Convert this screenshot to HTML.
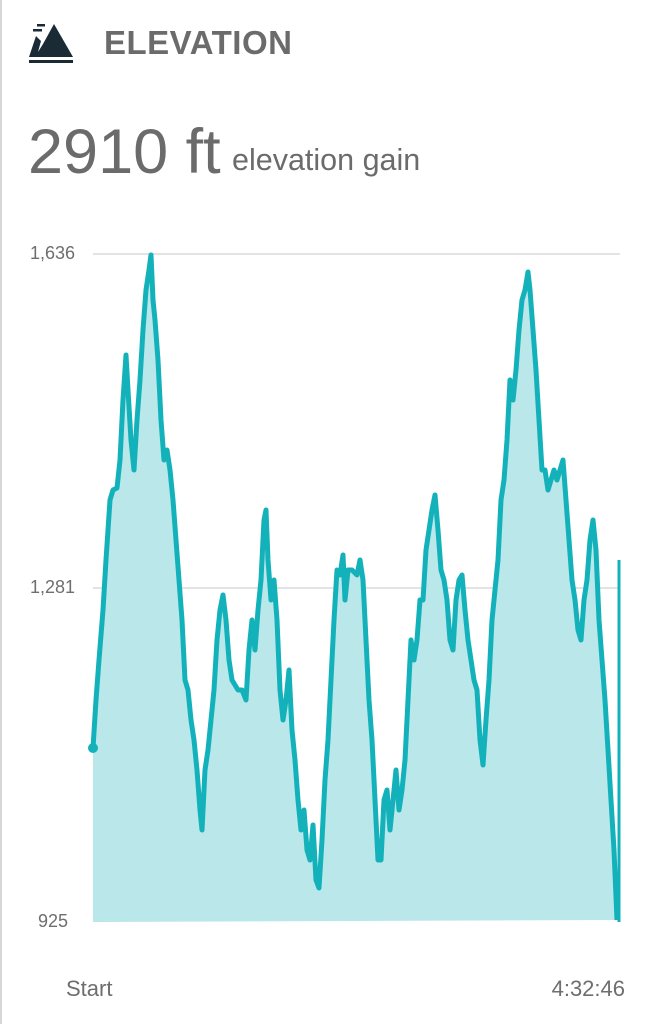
<!DOCTYPE html>
<html><head><style>
body{margin:0;width:655px;height:1024px;background:#fff;overflow:hidden;position:relative;font-family:"Liberation Sans",sans-serif;color:#6e6e6e}
.lb{position:absolute;left:0;top:0;width:2px;height:1024px;background:#d6d6d6}
</style></head><body>
<div class="lb"></div>
<svg style="position:absolute;left:28px;top:22px" width="48" height="42" viewBox="0 0 48 42">
<rect x="9" y="2" width="8" height="2.5" fill="#1b2b36"/>
<rect x="5" y="7" width="9" height="2.5" fill="#1b2b36"/>
<polygon points="1,35 8,14 13,19 10,30 15,22 26,2 45,35" fill="#1b2b36"/>
<rect x="1" y="38" width="44" height="3" fill="#1b2b36"/>
</svg>
<div style="position:absolute;left:104px;top:24px;font-size:33px;font-weight:bold;color:#6b6b6b;letter-spacing:0.5px">ELEVATION</div>
<div style="position:absolute;left:28px;top:116px;font-size:63px;color:#6b6b6b">2910 ft</div>
<div style="position:absolute;left:232px;top:143px;font-size:30.5px;color:#6b6b6b">elevation gain</div>
<div style="position:absolute;left:30px;top:243px;font-size:18px">1,636</div>
<div style="position:absolute;left:30px;top:577px;font-size:18px">1,281</div>
<div style="position:absolute;left:38px;top:911px;font-size:18px">925</div>
<div style="position:absolute;left:66px;top:976px;font-size:22px">Start</div>
<div style="position:absolute;right:30px;top:976px;font-size:22px">4:32:46</div>
<svg style="position:absolute;left:0;top:0" width="655" height="1024">
<line x1="93" y1="254" x2="620" y2="254" stroke="#e3e3e3" stroke-width="2"/>
<line x1="93" y1="588" x2="620" y2="588" stroke="#e3e3e3" stroke-width="2"/>
<polygon fill="#b9e7ea" points="93,922 93,748 96,700 99,660 103,610 106,560 110,500 113,490 117,488 120,460 123,400 126,355 128,390 131,440 134,470 137,420 140,380 143,330 146,290 149,270 151,255 153,300 155,320 158,360 161,420 164,460 167,450 170,470 173,500 176,540 179,580 182,620 185,680 188,690 191,720 194,740 197,770 200,810 202,830 205,770 208,750 211,720 214,690 217,640 220,610 223,595 226,620 229,660 232,680 235,685 238,690 242,690 246,700 249,650 252,620 255,650 258,610 261,580 264,520 266,510 268,560 271,600 274,580 277,620 280,690 283,720 286,700 289,670 292,730 295,760 298,800 301,830 304,810 307,850 310,860 313,825 316,880 319,888 322,840 325,780 328,740 331,680 334,620 337,570 340,575 343,555 345,600 348,570 352,570 357,575 360,560 363,580 366,640 369,700 372,740 375,800 378,860 381,860 384,800 387,790 390,830 393,800 396,770 399,810 402,790 405,760 408,700 411,640 414,660 417,640 420,600 423,600 426,550 429,530 432,510 435,495 438,530 441,570 444,580 447,600 450,640 453,650 456,600 459,580 462,575 465,610 468,640 471,660 474,680 477,690 480,740 483,765 486,720 489,680 492,620 495,590 498,560 501,500 504,480 507,440 510,380 513,400 516,370 519,330 522,300 525,290 528,272 530,290 533,330 536,370 539,420 542,470 545,470 548,490 551,480 554,470 557,480 560,470 563,460 566,500 569,540 572,580 575,600 578,630 581,640 584,600 587,580 590,540 593,520 596,550 599,620 602,660 605,700 608,750 611,800 614,850 617,920 620,920"/>
<polyline fill="none" stroke="#13b2bb" stroke-width="5" stroke-linejoin="round" points="93,748 96,700 99,660 103,610 106,560 110,500 113,490 117,488 120,460 123,400 126,355 128,390 131,440 134,470 137,420 140,380 143,330 146,290 149,270 151,255 153,300 155,320 158,360 161,420 164,460 167,450 170,470 173,500 176,540 179,580 182,620 185,680 188,690 191,720 194,740 197,770 200,810 202,830 205,770 208,750 211,720 214,690 217,640 220,610 223,595 226,620 229,660 232,680 235,685 238,690 242,690 246,700 249,650 252,620 255,650 258,610 261,580 264,520 266,510 268,560 271,600 274,580 277,620 280,690 283,720 286,700 289,670 292,730 295,760 298,800 301,830 304,810 307,850 310,860 313,825 316,880 319,888 322,840 325,780 328,740 331,680 334,620 337,570 340,575 343,555 345,600 348,570 352,570 357,575 360,560 363,580 366,640 369,700 372,740 375,800 378,860 381,860 384,800 387,790 390,830 393,800 396,770 399,810 402,790 405,760 408,700 411,640 414,660 417,640 420,600 423,600 426,550 429,530 432,510 435,495 438,530 441,570 444,580 447,600 450,640 453,650 456,600 459,580 462,575 465,610 468,640 471,660 474,680 477,690 480,740 483,765 486,720 489,680 492,620 495,590 498,560 501,500 504,480 507,440 510,380 513,400 516,370 519,330 522,300 525,290 528,272 530,290 533,330 536,370 539,420 542,470 545,470 548,490 551,480 554,470 557,480 560,470 563,460 566,500 569,540 572,580 575,600 578,630 581,640 584,600 587,580 590,540 593,520 596,550 599,620 602,660 605,700 608,750 611,800 614,850 617,920"/>
<line x1="619" y1="922" x2="619" y2="560" stroke="#13b2bb" stroke-width="3"/>
<circle cx="93" cy="748" r="5" fill="#13b2bb"/>
</svg>
</body></html>
